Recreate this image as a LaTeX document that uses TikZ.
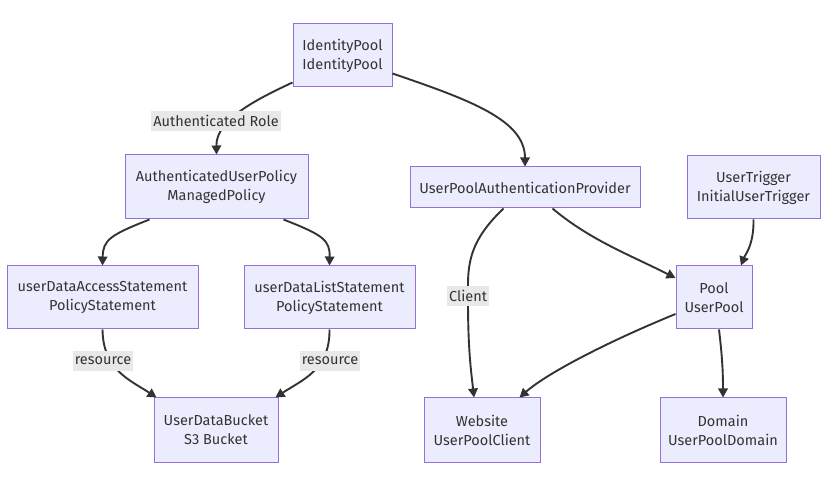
\documentclass[tikz,border=0pt]{standalone}
\usepackage{fontspec}
\setmainfont{Fira Sans}
\usetikzlibrary{arrows.meta}
\definecolor{nodefill}{RGB}{236,236,255}
\definecolor{nodeline}{RGB}{147,112,219}
\definecolor{ink}{RGB}{51,51,51}
\definecolor{labelbg}{RGB}{232,232,232}
\begin{document}
\begin{tikzpicture}[x=1pt,y=-1pt,
  box/.style={draw=nodeline,fill=nodefill,line width=1pt,inner sep=0pt,
    align=center,text=ink,font=\fontsize{14.5}{19}\selectfont},
  edge/.style={draw=ink,line width=1.9pt,-{Triangle[length=9pt,width=9.5pt]}},
  elabel/.style={fill=labelbg,text=ink,inner sep=2pt,minimum height=20pt,
    font=\fontsize{14.5}{19}\selectfont}]
\useasboundingbox[fill=white] (0,0) rectangle (828,486);
% nodes
\node[box,minimum width=99pt,minimum height=63pt] (ip) at (342.5,55.5) {IdentityPool\\IdentityPool};
\node[box,minimum width=183pt,minimum height=64pt] (apu) at (216.5,187) {AuthenticatedUserPolicy\\ManagedPolicy};
\node[box,minimum width=230pt,minimum height=41pt] (upap) at (525,187.5) {UserPoolAuthenticationProvider};
\node[box,minimum width=133pt,minimum height=63pt] (ut) at (753.5,187.5) {UserTrigger\\InitialUserTrigger};
\node[box,minimum width=191pt,minimum height=63pt] (uda) at (102.5,297.5) {userDataAccessStatement\\PolicyStatement};
\node[box,minimum width=171pt,minimum height=63pt] (udl) at (329.5,297.5) {userDataListStatement\\PolicyStatement};
\node[box,minimum width=76pt,minimum height=63pt] (pool) at (714,297.5) {Pool\\UserPool};
\node[box,minimum width=124pt,minimum height=64pt] (bucket) at (216,430) {UserDataBucket\\S3 Bucket};
\node[box,minimum width=116pt,minimum height=64pt] (web) at (482,430) {Website\\UserPoolClient};
\node[box,minimum width=126pt,minimum height=64pt] (dom) at (723,430) {Domain\\UserPoolDomain};
% connectors
\draw[edge] ([yshift=5pt]ip.south west) .. controls (255,100) and (216,120) .. (apu.north);
\draw[edge] ([yshift=14pt]ip.south east) .. controls (470,100) and (525,120) .. (upap.north);
\draw[edge] ([xshift=25pt]apu.south west) .. controls (110,235) and (103,240) .. (uda.north);
\draw[edge] ([xshift=-25pt]apu.south east) .. controls (323,235) and (330,240) .. (udl.north);
\draw[edge] (uda.south) .. controls (103,370) and (130,380) .. ([xshift=3pt]bucket.north west);
\draw[edge] (udl.south) .. controls (330,370) and (302,380) .. ([xshift=-3pt]bucket.north east);
\draw[edge] ([xshift=94pt]upap.south west) .. controls (465,245) and (468,270) .. (468,300)
  .. controls (468,350) and (471,370) .. ([xshift=-8pt]web.north);
\draw[edge] ([xshift=143pt]upap.south west) .. controls (590,240) and (630,255) .. ([yshift=19.5pt]pool.west);
\draw[edge] (ut.south) .. controls (754,245) and (745,255) .. ([xshift=27pt]pool.north);
\draw[edge] ([yshift=-16.5pt]pool.west) .. controls (600,345) and (545,375) .. ([xshift=-21pt]web.north east);
\draw[edge] ([xshift=5pt]pool.south) .. controls (722,355) and (723,370) .. (dom.north);
% connector labels
\node[elabel] (l1) at (216,121) {Authenticated Role};
\node[elabel] (l2) at (103,361) {resource};
\node[elabel] (l3) at (330,361) {resource};
\node[elabel] (l4) at (468,296) {Client};
\end{tikzpicture}
\end{document}
